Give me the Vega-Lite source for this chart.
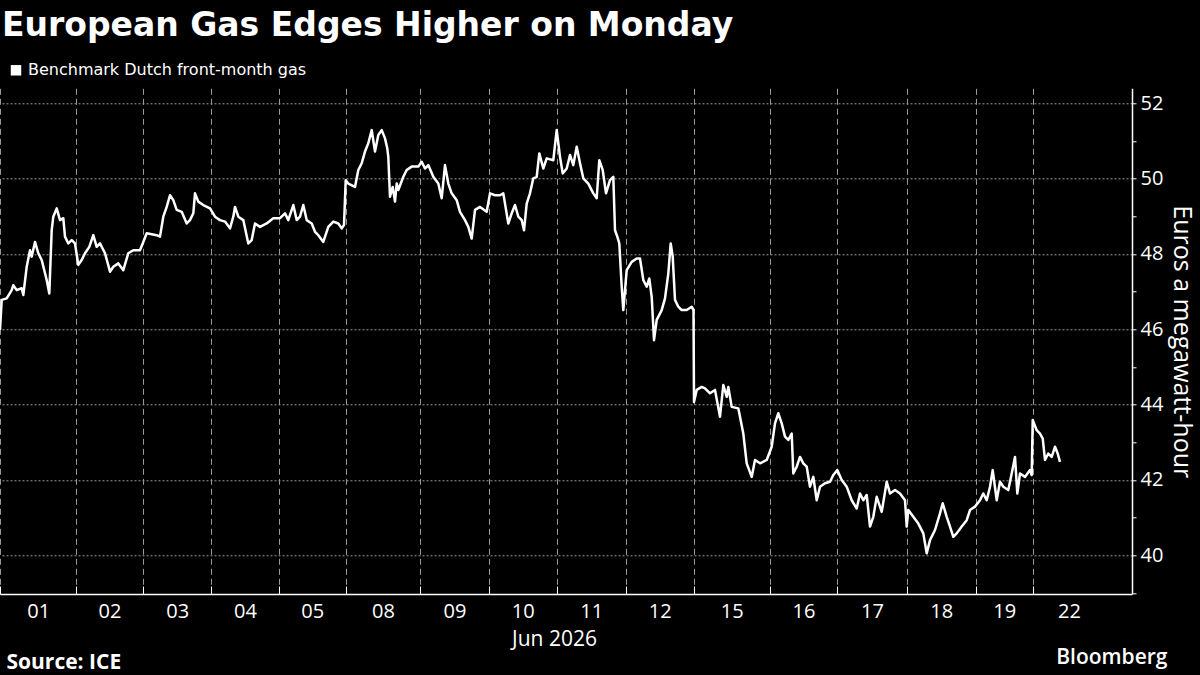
{
  "$schema": "https://vega.github.io/schema/vega-lite/v6.json",
  "width": 1132,
  "height": 505.7,
  "autosize": {"type": "none"},
  "padding": {"left": 0, "top": 88.3, "right": 68, "bottom": 81},
  "background": "#000000",
  "title": {
    "text": "European Gas Edges Higher on Monday",
    "anchor": "start",
    "frame": "group",
    "orient": "top",
    "font": "DejaVu Sans",
    "fontSize": 33,
    "fontWeight": "bold",
    "color": "#ffffff",
    "dx": 2,
    "offset": 19
  },
  "config": {
    "view": {"stroke": null},
    "font": "Open Sans"
  },
  "data": {
    "values": [
      {"t": 0.0, "p": 45.98}, {"t": 0.17, "p": 46.78}, {"t": 0.67, "p": 46.82}, {"t": 1.17, "p": 47.04}, {"t": 1.33, "p": 47.17}, {"t": 1.67, "p": 47.04}, {"t": 2.17, "p": 47.09}, {"t": 2.33, "p": 46.91}, {"t": 2.67, "p": 47.66}, {"t": 3.0, "p": 48.1}, {"t": 3.17, "p": 47.93}, {"t": 3.5, "p": 48.32}, {"t": 3.83, "p": 48.02}, {"t": 4.17, "p": 47.84}, {"t": 4.67, "p": 47.31}, {"t": 4.93, "p": 46.95}, {"t": 5.17, "p": 48.63}, {"t": 5.33, "p": 48.99}, {"t": 5.67, "p": 49.21}, {"t": 6.0, "p": 48.9}, {"t": 6.33, "p": 48.95}, {"t": 6.5, "p": 48.46}, {"t": 6.83, "p": 48.28}, {"t": 7.17, "p": 48.37}, {"t": 7.5, "p": 48.28},
      {"t": 7.83, "p": 47.71}, {"t": 8.17, "p": 47.84}, {"t": 8.5, "p": 48.02}, {"t": 8.93, "p": 48.19}, {"t": 9.33, "p": 48.5}, {"t": 9.67, "p": 48.19}, {"t": 10.0, "p": 48.28}, {"t": 10.5, "p": 48.02}, {"t": 11.0, "p": 47.53}, {"t": 11.33, "p": 47.66}, {"t": 11.83, "p": 47.75}, {"t": 12.33, "p": 47.57}, {"t": 12.83, "p": 48.02}, {"t": 13.33, "p": 48.1}, {"t": 14.0, "p": 48.1},
      {"t": 14.33, "p": 48.32}, {"t": 14.67, "p": 48.55}, {"t": 15.67, "p": 48.5}, {"t": 16.0, "p": 48.46}, {"t": 16.33, "p": 48.99}, {"t": 16.67, "p": 49.25}, {"t": 17.0, "p": 49.56}, {"t": 17.33, "p": 49.43}, {"t": 17.67, "p": 49.17}, {"t": 18.17, "p": 49.12}, {"t": 18.67, "p": 48.81}, {"t": 19.0, "p": 48.9}, {"t": 19.33, "p": 49.08}, {"t": 19.5, "p": 49.61}, {"t": 19.83, "p": 49.39}, {"t": 20.33, "p": 49.3}, {"t": 21.0, "p": 49.21},
      {"t": 21.5, "p": 48.99}, {"t": 22.0, "p": 48.9}, {"t": 22.5, "p": 48.86}, {"t": 23.0, "p": 48.68}, {"t": 23.33, "p": 48.99}, {"t": 23.5, "p": 49.25}, {"t": 23.83, "p": 48.99}, {"t": 24.33, "p": 48.9}, {"t": 24.83, "p": 48.28}, {"t": 25.17, "p": 48.37}, {"t": 25.5, "p": 48.81}, {"t": 26.0, "p": 48.72}, {"t": 26.67, "p": 48.81}, {"t": 27.33, "p": 48.95},
      {"t": 28.0, "p": 48.95}, {"t": 28.5, "p": 49.08}, {"t": 28.83, "p": 48.9}, {"t": 29.33, "p": 49.3}, {"t": 29.67, "p": 48.9}, {"t": 30.0, "p": 48.99}, {"t": 30.33, "p": 49.3}, {"t": 30.67, "p": 48.9}, {"t": 31.17, "p": 48.81}, {"t": 31.5, "p": 48.59}, {"t": 31.83, "p": 48.5}, {"t": 32.33, "p": 48.32}, {"t": 32.83, "p": 48.72}, {"t": 33.33, "p": 48.86}, {"t": 33.83, "p": 48.81}, {"t": 34.17, "p": 48.68}, {"t": 34.4, "p": 48.77},
      {"t": 34.57, "p": 49.96}, {"t": 34.83, "p": 49.87}, {"t": 35.5, "p": 49.78}, {"t": 35.83, "p": 50.23}, {"t": 36.17, "p": 50.41}, {"t": 36.5, "p": 50.72}, {"t": 36.83, "p": 50.94}, {"t": 37.17, "p": 51.29}, {"t": 37.5, "p": 50.72}, {"t": 37.83, "p": 51.16}, {"t": 38.17, "p": 51.29}, {"t": 38.5, "p": 51.07}, {"t": 38.73, "p": 50.8}, {"t": 38.83, "p": 50.58}, {"t": 39.0, "p": 49.52}, {"t": 39.27, "p": 49.78}, {"t": 39.5, "p": 49.39}, {"t": 39.67, "p": 49.87}, {"t": 39.83, "p": 49.7}, {"t": 40.33, "p": 50.05}, {"t": 40.67, "p": 50.23}, {"t": 41.17, "p": 50.32}, {"t": 41.83, "p": 50.32},
      {"t": 42.17, "p": 50.45}, {"t": 42.5, "p": 50.27}, {"t": 42.83, "p": 50.36}, {"t": 43.33, "p": 50.05}, {"t": 43.83, "p": 49.87}, {"t": 44.17, "p": 49.48}, {"t": 44.5, "p": 50.36}, {"t": 44.83, "p": 49.87}, {"t": 45.17, "p": 49.61}, {"t": 45.67, "p": 49.43}, {"t": 46.0, "p": 49.12}, {"t": 46.5, "p": 48.9}, {"t": 46.83, "p": 48.72}, {"t": 47.17, "p": 48.41}, {"t": 47.5, "p": 49.17}, {"t": 48.0, "p": 49.25}, {"t": 48.67, "p": 49.12},
      {"t": 49.0, "p": 49.61}, {"t": 49.5, "p": 49.56}, {"t": 50.0, "p": 49.56}, {"t": 50.33, "p": 49.61}, {"t": 50.83, "p": 48.81}, {"t": 51.17, "p": 49.08}, {"t": 51.5, "p": 49.3}, {"t": 51.83, "p": 48.99}, {"t": 52.17, "p": 48.9}, {"t": 52.4, "p": 48.63}, {"t": 52.67, "p": 49.34}, {"t": 53.0, "p": 49.61}, {"t": 53.33, "p": 50.01}, {"t": 53.67, "p": 50.05}, {"t": 53.93, "p": 50.67}, {"t": 54.33, "p": 50.27}, {"t": 54.67, "p": 50.54}, {"t": 55.33, "p": 50.49}, {"t": 55.67, "p": 51.29},
      {"t": 56.0, "p": 50.58}, {"t": 56.27, "p": 50.14}, {"t": 56.67, "p": 50.27}, {"t": 57.0, "p": 50.63}, {"t": 57.33, "p": 50.36}, {"t": 57.67, "p": 50.85}, {"t": 58.0, "p": 50.41}, {"t": 58.33, "p": 50.01}, {"t": 58.83, "p": 49.87}, {"t": 59.33, "p": 49.61}, {"t": 59.67, "p": 49.48}, {"t": 59.93, "p": 50.49}, {"t": 60.27, "p": 50.23}, {"t": 60.6, "p": 49.61}, {"t": 61.0, "p": 49.96}, {"t": 61.33, "p": 50.05}, {"t": 61.5, "p": 48.63}, {"t": 61.73, "p": 48.46}, {"t": 61.93, "p": 48.28}, {"t": 62.17, "p": 47.13}, {"t": 62.33, "p": 46.51},
      {"t": 62.67, "p": 47.57}, {"t": 63.17, "p": 47.79}, {"t": 63.67, "p": 47.88}, {"t": 64.0, "p": 47.88}, {"t": 64.33, "p": 47.31}, {"t": 64.67, "p": 47.13}, {"t": 64.93, "p": 47.35}, {"t": 65.17, "p": 46.86}, {"t": 65.33, "p": 46.07}, {"t": 65.4, "p": 45.71}, {"t": 65.67, "p": 46.25}, {"t": 66.17, "p": 46.51}, {"t": 66.5, "p": 46.82}, {"t": 66.83, "p": 47.48}, {"t": 67.07, "p": 48.28}, {"t": 67.27, "p": 47.93}, {"t": 67.5, "p": 46.78}, {"t": 67.83, "p": 46.6}, {"t": 68.17, "p": 46.51}, {"t": 68.67, "p": 46.51}, {"t": 69.17, "p": 46.6}, {"t": 69.35, "p": 46.51},
      {"t": 69.4, "p": 44.07}, {"t": 69.67, "p": 44.39}, {"t": 70.17, "p": 44.47}, {"t": 70.5, "p": 44.43}, {"t": 71.0, "p": 44.3}, {"t": 71.5, "p": 44.39}, {"t": 72.0, "p": 43.68}, {"t": 72.33, "p": 44.52}, {"t": 72.67, "p": 44.21}, {"t": 72.83, "p": 44.47}, {"t": 73.17, "p": 43.94}, {"t": 73.83, "p": 43.9}, {"t": 74.33, "p": 43.23}, {"t": 74.67, "p": 42.44}, {"t": 75.17, "p": 42.08}, {"t": 75.5, "p": 42.53}, {"t": 76.0, "p": 42.44}, {"t": 76.67, "p": 42.53},
      {"t": 77.17, "p": 42.88}, {"t": 77.5, "p": 43.5}, {"t": 77.83, "p": 43.77}, {"t": 78.17, "p": 43.5}, {"t": 78.5, "p": 43.15}, {"t": 78.83, "p": 43.06}, {"t": 79.17, "p": 43.23}, {"t": 79.33, "p": 42.17}, {"t": 79.67, "p": 42.35}, {"t": 80.0, "p": 42.61}, {"t": 80.33, "p": 42.44}, {"t": 80.67, "p": 42.35}, {"t": 81.0, "p": 41.82}, {"t": 81.33, "p": 42.08}, {"t": 81.67, "p": 41.46}, {"t": 82.0, "p": 41.82}, {"t": 82.5, "p": 41.91}, {"t": 83.0, "p": 41.95}, {"t": 83.33, "p": 42.13},
      {"t": 83.73, "p": 42.26}, {"t": 84.17, "p": 42.0}, {"t": 84.67, "p": 41.82}, {"t": 85.17, "p": 41.46}, {"t": 85.67, "p": 41.24}, {"t": 86.0, "p": 41.64}, {"t": 86.33, "p": 41.46}, {"t": 86.67, "p": 41.6}, {"t": 87.0, "p": 40.76}, {"t": 87.33, "p": 41.02}, {"t": 87.67, "p": 41.55}, {"t": 88.17, "p": 41.15}, {"t": 88.67, "p": 41.95}, {"t": 89.0, "p": 41.64}, {"t": 89.5, "p": 41.73}, {"t": 90.0, "p": 41.64}, {"t": 90.5, "p": 41.46},
      {"t": 90.67, "p": 40.76}, {"t": 90.83, "p": 41.2}, {"t": 91.33, "p": 41.02}, {"t": 91.83, "p": 40.84}, {"t": 92.33, "p": 40.58}, {"t": 92.67, "p": 40.05}, {"t": 93.0, "p": 40.4}, {"t": 93.5, "p": 40.67}, {"t": 94.0, "p": 41.11}, {"t": 94.27, "p": 41.38}, {"t": 94.67, "p": 41.02}, {"t": 95.0, "p": 40.76}, {"t": 95.33, "p": 40.49}, {"t": 95.67, "p": 40.58}, {"t": 96.17, "p": 40.76}, {"t": 96.67, "p": 40.93}, {"t": 97.0, "p": 41.2},
      {"t": 97.5, "p": 41.29}, {"t": 98.0, "p": 41.46}, {"t": 98.33, "p": 41.64}, {"t": 98.67, "p": 41.46}, {"t": 99.0, "p": 41.82}, {"t": 99.27, "p": 42.26}, {"t": 99.67, "p": 41.46}, {"t": 100.0, "p": 41.95}, {"t": 100.33, "p": 41.82}, {"t": 100.83, "p": 41.73}, {"t": 101.17, "p": 42.17}, {"t": 101.5, "p": 42.61}, {"t": 101.73, "p": 41.64}, {"t": 102.0, "p": 42.17}, {"t": 102.5, "p": 42.08}, {"t": 103.0, "p": 42.26}, {"t": 103.17, "p": 42.13},
      {"t": 103.27, "p": 43.59}, {"t": 103.67, "p": 43.32}, {"t": 104.0, "p": 43.23}, {"t": 104.27, "p": 43.1}, {"t": 104.5, "p": 42.53}, {"t": 104.83, "p": 42.7}, {"t": 105.17, "p": 42.61}, {"t": 105.5, "p": 42.88}, {"t": 105.77, "p": 42.7}, {"t": 106.0, "p": 42.48}
    ]
  },
  "resolve": {"axis": {"x": "independent", "y": "independent"}},
  "layer": [
    {
      "mark": {"type": "line", "color": "#ffffff", "strokeWidth": 2.5, "strokeJoin": "round"},
      "encoding": {
        "x": {
          "field": "t",
          "type": "quantitative",
          "scale": {"domain": [0, 113.2], "nice": false, "zero": false},
          "axis": {
            "orient": "bottom",
            "values": [0, 3.83, 7.57, 10.95, 14.33, 17.73, 21.13, 24.5, 27.87, 31.22, 34.57, 38.3, 42.03, 45.45, 48.87, 52.27, 55.67, 59.12, 62.57, 65.97, 69.37, 73.17, 76.97, 80.35, 83.73, 87.2, 90.67, 94.12, 97.57, 100.42, 103.27, 106.9],
            "labelExpr": "['01','02','03','04','05','08','09','10','11','12','15','16','17','18','19','22'][indexof([3.83,10.95,17.73,24.5,31.22,38.3,45.45,52.27,59.12,65.97,73.17,80.35,87.2,94.12,100.42,106.9], datum.value)] || ''",
            "labelOverlap": false,
            "labelFlush": false,
            "labelBound": false,
            "labelColor": "#ffffff",
            "labelFontSize": 20,
            "labelPadding": 15,
            "labelFont": "Open Sans",
            "domainColor": "#ffffff",
            "domainWidth": 1.5,
            "tickColor": "#ffffff",
            "tickSize": -8,
            "tickWidth": 1,
            "tickOpacity": {"condition": {"test": "indexof([0,7.57,14.33,21.13,27.87,34.57,42.03,48.87,55.67,62.57,69.37,76.97,83.73,90.67,97.57,103.27], datum.value) >= 0", "value": 1}, "value": 0},
            "grid": true,
            "gridColor": "#9a9a9a",
            "gridDash": [6, 4],
            "gridWidth": 1,
            "gridOpacity": {"condition": {"test": "indexof([0,7.57,14.33,21.13,27.87,34.57,42.03,48.87,55.67,62.57,69.37,76.97,83.73,90.67,97.57,103.27], datum.value) >= 0", "value": 1}, "value": 0},
            "title": "Jun 2026",
            "titleColor": "#ffffff",
            "titleFontSize": 21,
            "titleFontWeight": "normal",
            "titleFont": "Open Sans",
            "titleAnchor": "start",
            "titleAlign": "center",
            "titleBaseline": "middle",
            "titleX": 554,
            "titleY": 45
          }
        },
        "y": {
          "field": "p",
          "type": "quantitative",
          "scale": {"domain": [38.97, 52.4], "nice": false, "zero": false},
          "axis": {
            "orient": "right",
            "values": [39, 40, 41, 42, 43, 44, 45, 46, 47, 48, 49, 50, 51, 52],
            "labelExpr": "datum.value % 2 === 0 ? datum.label : ''",
            "labelColor": "#ffffff",
            "labelFontSize": 20,
            "labelFont": "Open Sans",
            "labelPadding": 4,
            "labelBaseline": "middle",
            "domainColor": "#ffffff",
            "domainWidth": 1.5,
            "tickColor": "#ffffff",
            "tickSize": 4,
            "grid": true,
            "gridColor": "#9a9a9a",
            "gridDash": [2, 2],
            "gridWidth": 1,
            "gridOpacity": {"condition": {"test": "datum.value % 2 === 0", "value": 1}, "value": 0},
            "title": "Euros a megawatt-hour",
            "titleColor": "#ffffff",
            "titleFontSize": 25,
            "titleFontWeight": "normal",
            "titleFont": "Open Sans",
            "titleAngle": 90,
            "titleAlign": "center",
            "titleBaseline": "middle",
            "titleX": 49,
            "titleY": 253
          }
        },
        "color": {
          "datum": "Benchmark Dutch front-month gas",
          "type": "nominal",
          "scale": {"range": ["#ffffff"]},
          "legend": {
            "orient": "none",
            "legendX": 8,
            "legendY": -26,
            "title": null,
            "padding": 0,
            "symbolType": "square",
            "symbolSize": 110,
            "symbolFillColor": "#ffffff",
            "symbolStrokeColor": "#ffffff",
            "symbolStrokeWidth": 0,
            "symbolOpacity": 1,
            "labelColor": "#ffffff",
            "labelFontSize": 16,
            "labelFont": "DejaVu Sans",
            "labelOffset": 4,
            "labelLimit": 500
          }
        }
      }
    },
    {
      "mark": {"type": "point", "opacity": 0},
      "encoding": {
        "x": {
          "field": "t",
          "type": "quantitative",
          "axis": {
            "orient": "top",
            "labels": false,
            "ticks": false,
            "domain": false,
            "grid": false,
            "title": "Bloomberg",
            "titleColor": "#ffffff",
            "titleFontSize": 21,
            "titleFontWeight": 600,
            "titleFont": "Open Sans",
            "titleAnchor": "start",
            "titleAlign": "right",
            "titleBaseline": "middle",
            "titleX": 1167,
            "titleY": 569
          }
        },
        "y": {
          "field": "p",
          "type": "quantitative",
          "axis": {
            "orient": "left",
            "labels": false,
            "ticks": false,
            "domain": false,
            "grid": false,
            "title": "Source: ICE",
            "titleColor": "#ffffff",
            "titleFontSize": 21,
            "titleFontWeight": "bold",
            "titleFont": "Open Sans",
            "titleAngle": 0,
            "titleAnchor": "start",
            "titleAlign": "left",
            "titleBaseline": "middle",
            "titleX": 6,
            "titleY": 574
          }
        }
      }
    }
  ]
}
